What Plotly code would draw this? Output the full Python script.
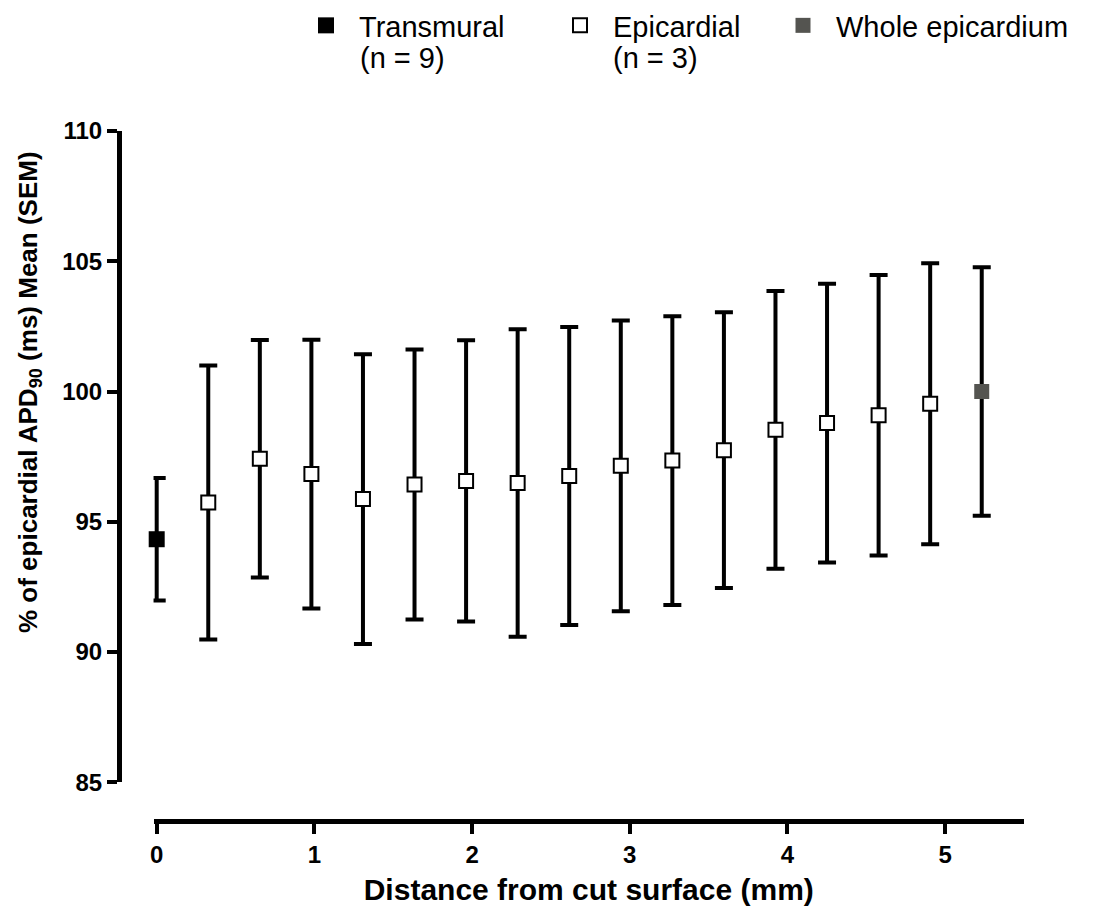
import plotly.graph_objects as go

# Distance from cut surface (mm) and APD90 as % of epicardial value, mean and SEM
transmural_x = [0.0]
transmural_mean = [94.33]
transmural_sem = [2.35]

epicardial_x = [0.327, 0.654, 0.981, 1.308, 1.635, 1.962, 2.289, 2.616,
                2.943, 3.270, 3.597, 3.924, 4.251, 4.578, 4.905]
epicardial_mean = [95.74, 97.42, 96.83, 95.87, 96.43, 96.57, 96.49, 96.76,
                   97.15, 97.35, 97.75, 98.53, 98.79, 99.09, 99.53]
epicardial_sem = [5.26, 4.56, 5.16, 5.56, 5.18, 5.40, 5.90, 5.72,
                  5.58, 5.54, 5.29, 5.33, 5.35, 5.38, 5.39]

whole_x = [5.232]
whole_mean = [100.0]
whole_sem = [4.77]

x_ticks = [0, 1, 2, 3, 4, 5]
y_ticks = [85, 90, 95, 100, 105, 110]

W, H = 1094, 909
FONT = "Liberation Sans, Arial, sans-serif"

X_MIN, X_MAX = -0.02, 5.5
X0_PX, X_SCALE = 156.7, 157.7  # pixel of x = 0 and pixels per mm


def err(vals):
    return dict(type="data", array=vals, visible=True, color="black",
                thickness=4, width=9)


fig = go.Figure()
fig.add_trace(go.Scatter(
    x=transmural_x, y=transmural_mean, mode="markers",
    name="Transmural", legend="legend", cliponaxis=False,
    marker=dict(symbol="square", size=16, color="black", line=dict(width=0)),
    error_y=err(transmural_sem),
))
fig.add_trace(go.Scatter(
    x=epicardial_x, y=epicardial_mean, mode="markers",
    name="Epicardial", legend="legend2", cliponaxis=False,
    marker=dict(symbol="square", size=14, color="white",
                line=dict(width=2, color="black")),
    error_y=err(epicardial_sem),
))
fig.add_trace(go.Scatter(
    x=whole_x, y=whole_mean, mode="markers",
    name="Whole epicardium", legend="legend3", cliponaxis=False,
    marker=dict(symbol="square", size=15, color="#545450", line=dict(width=0)),
    error_y=err(whole_sem),
))

ML, MT, MB = 119, 131, 88
MR = round(W - (X0_PX + X_MAX * X_SCALE))
pw = W - ML - MR
ph = H - MT - MB


def legend_at(left_px):
    return dict(
        xref="container", yref="container",
        x=left_px / W, y=1, xanchor="left", yanchor="top",
        orientation="h", valign="top", itemwidth=56,
        font=dict(family=FONT, size=29, color="black"),
        bgcolor="rgba(0,0,0,0)", borderwidth=0,
    )


def px_x(px):
    return (px - ML) / pw


def px_y(py):
    return (H - MB - py) / ph


# sample sizes written under the first two legend entries
n_notes = [("(n = 9)", 358), ("(n = 3)", 611)]
annotations = [dict(
    text=t, xref="paper", yref="paper", x=px_x(xl), y=px_y(58),
    xanchor="left", yanchor="middle", showarrow=False,
    font=dict(family=FONT, size=29, color="black"),
) for t, xl in n_notes]

annotations.append(dict(
    text="<b>% of epicardial APD<sub>90</sub> (ms) Mean (SEM)</b>",
    xref="paper", yref="paper", x=px_x(29), y=px_y(392),
    xanchor="center", yanchor="middle", textangle=-90, showarrow=False,
    font=dict(family=FONT, size=26, color="black"),
))

fig.update_layout(
    width=W, height=H,
    margin=dict(l=ML, r=MR, t=MT, b=MB, autoexpand=False),
    paper_bgcolor="white", plot_bgcolor="white",
    font=dict(family=FONT, color="black"),
    showlegend=True,
    legend=legend_at(293),
    legend2=legend_at(547),
    legend3=legend_at(770),
    xaxis=dict(
        range=[X_MIN, X_MAX], domain=[px_x(X0_PX + X_MIN * X_SCALE), 1],
        anchor="free", position=0,
        tickvals=x_ticks, ticktext=[str(t) for t in x_ticks],
        ticks="outside", ticklen=10, tickwidth=4, tickcolor="black",
        showline=True, linewidth=5, linecolor="black",
        showgrid=False, zeroline=False,
        tickfont=dict(family=FONT, size=24, color="black", weight="bold"),
        title=dict(text="<b>Distance from cut surface (mm)</b>", standoff=12,
                   font=dict(family=FONT, size=30, color="black")),
    ),
    yaxis=dict(
        range=[85, 110], domain=[px_y(782.3), 1],
        anchor="free", position=0,
        tickvals=y_ticks, ticktext=[str(t) for t in y_ticks],
        ticks="outside", ticklen=10, tickwidth=4, tickcolor="black",
        showline=True, linewidth=5, linecolor="black",
        showgrid=False, zeroline=False,
        tickfont=dict(family=FONT, size=24, color="black", weight="bold"),
    ),
    annotations=annotations,
)

fig.write_html("out.html")
